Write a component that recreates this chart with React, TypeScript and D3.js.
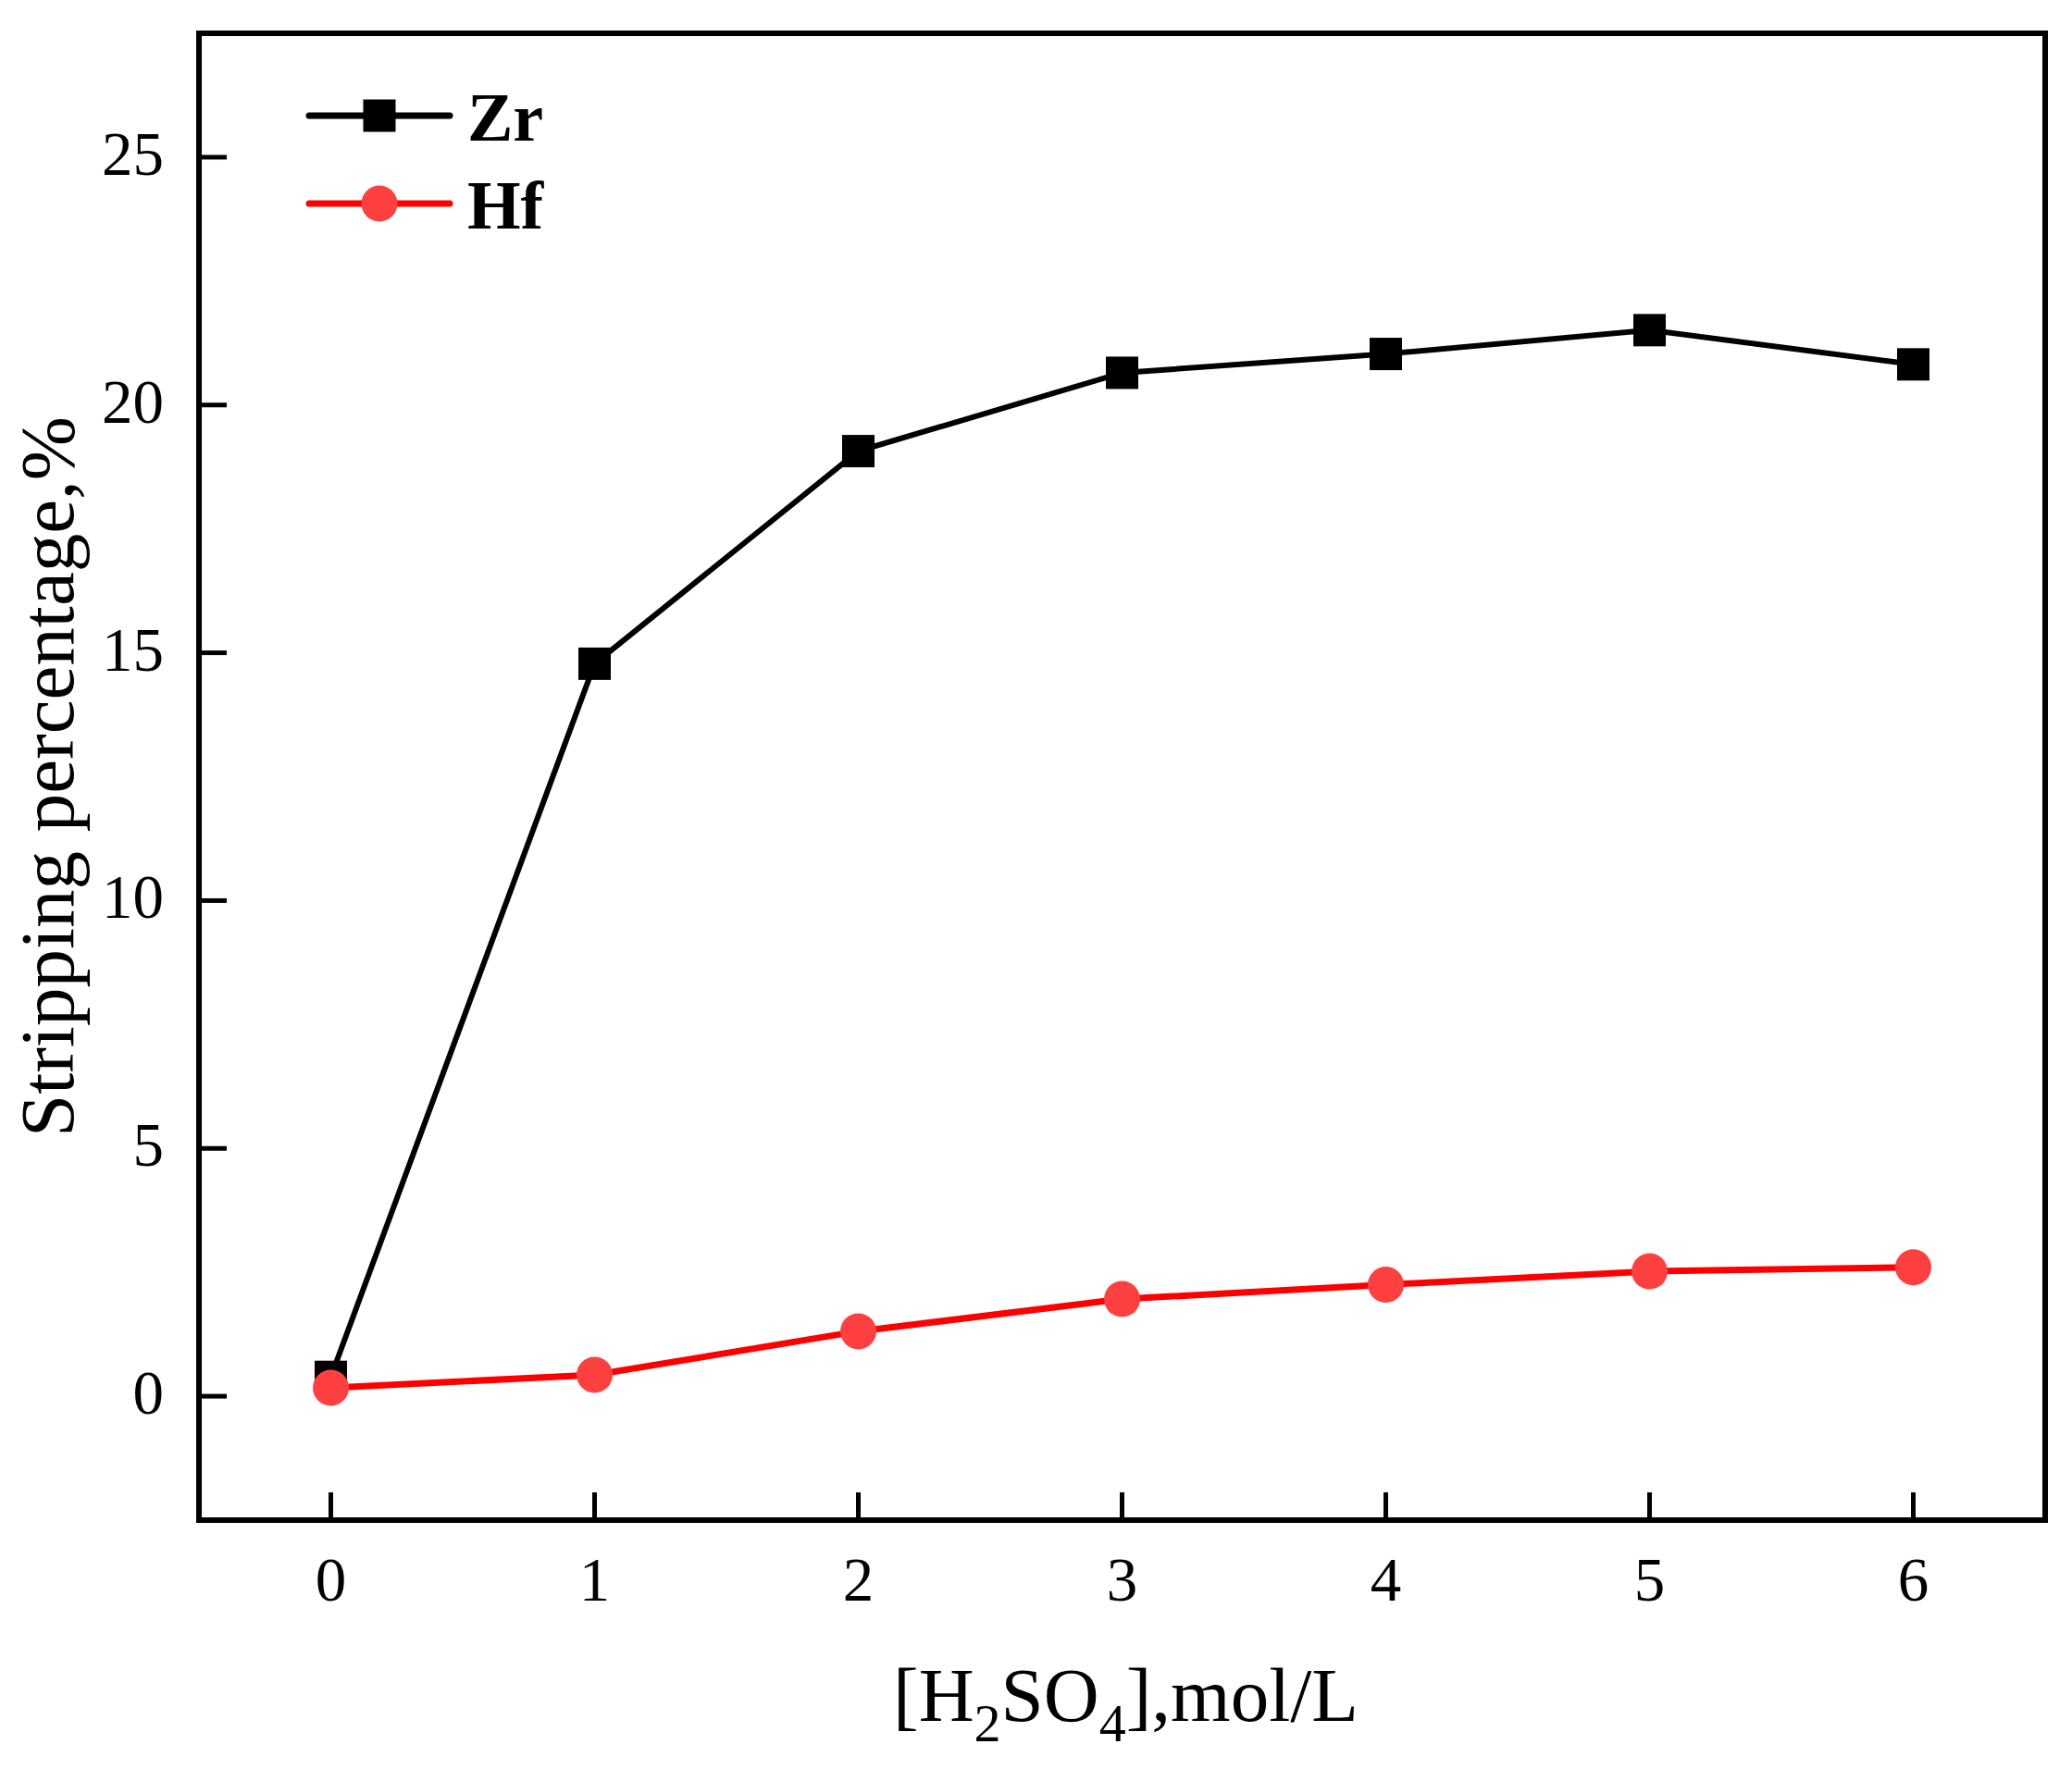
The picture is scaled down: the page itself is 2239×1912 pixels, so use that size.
// @ts-nocheck
import { useEffect, useRef } from "react"
import * as d3 from "d3"

const concentrations = [0, 1, 2, 3, 4, 5, 6]
const zrValues = [0.39, 14.78, 19.07, 20.65, 21.03, 21.51, 20.82]
const hfValues = [0.17, 0.43, 1.31, 1.96, 2.25, 2.52, 2.6]
const xTicks = [0, 1, 2, 3, 4, 5, 6]
const yTicks = [0, 5, 10, 15, 20, 25]

const FONT = "'Liberation Serif', 'Times New Roman', serif"

export default function App() {
  const svgRef = useRef<SVGSVGElement>(null)

  useEffect(() => {
    if (!svgRef.current) return
    const width = 2239
    const height = 1912
    const left = 215
    const right = 2210
    const top = 36
    const bottom = 1643

    const svg = d3.select(svgRef.current)
    svg.selectAll("*").remove()
    svg.attr("width", width).attr("height", height)

    svg.append("rect").attr("width", width).attr("height", height).attr("fill", "#fff")

    const x = d3.scaleLinear().domain([-0.5, 6.5]).range([left, right])
    const y = d3.scaleLinear().domain([-2.5, 27.5]).range([bottom, top])

    // ticks (inward)
    const tickLen = 30
    svg
      .append("g")
      .selectAll("line")
      .data(xTicks)
      .join("line")
      .attr("x1", (d) => x(d))
      .attr("x2", (d) => x(d))
      .attr("y1", bottom)
      .attr("y2", bottom - tickLen)
      .attr("stroke", "#000")
      .attr("stroke-width", 5)

    svg
      .append("g")
      .selectAll("line")
      .data(yTicks)
      .join("line")
      .attr("x1", left)
      .attr("x2", left + tickLen)
      .attr("y1", (d) => y(d))
      .attr("y2", (d) => y(d))
      .attr("stroke", "#000")
      .attr("stroke-width", 5)

    // frame
    svg
      .append("rect")
      .attr("x", left)
      .attr("y", top)
      .attr("width", right - left)
      .attr("height", bottom - top)
      .attr("fill", "none")
      .attr("stroke", "#000")
      .attr("stroke-width", 6)

    // tick labels
    svg
      .append("g")
      .selectAll("text")
      .data(xTicks)
      .join("text")
      .attr("x", (d) => x(d))
      .attr("y", 1730)
      .attr("text-anchor", "middle")
      .style("font-family", FONT)
      .style("font-size", "67px")
      .text((d) => d)

    svg
      .append("g")
      .selectAll("text")
      .data(yTicks)
      .join("text")
      .attr("x", 177)
      .attr("y", (d) => y(d) + 19)
      .attr("text-anchor", "end")
      .style("font-family", FONT)
      .style("font-size", "67px")
      .text((d) => d)

    // axis titles
    const xt = svg
      .append("text")
      .attr("x", (left + right) / 2 + 4)
      .attr("y", 1860)
      .attr("text-anchor", "middle")
      .style("font-family", FONT)
      .style("font-size", "83px")
    xt.append("tspan").text("[H")
    xt.append("tspan").attr("dy", 22).style("font-size", "58px").text("2")
    xt.append("tspan").attr("dy", -22).text("SO")
    xt.append("tspan").attr("dy", 22).style("font-size", "58px").text("4")
    xt.append("tspan").attr("dy", -22).text("],mol/L")

    svg
      .append("text")
      .attr("transform", `translate(79,${(top + bottom) / 2}) rotate(-90)`)
      .attr("text-anchor", "middle")
      .style("font-family", FONT)
      .style("font-size", "83px")
      .text("Stripping percentage,%")

    const line = d3
      .line()
      .x((d) => x(d[0]))
      .y((d) => y(d[1]))

    const zrData = concentrations.map((c, i) => [c, zrValues[i]])
    const hfData = concentrations.map((c, i) => [c, hfValues[i]])

    // Zr series
    svg
      .append("path")
      .attr("d", line(zrData))
      .attr("fill", "none")
      .attr("stroke", "#000")
      .attr("stroke-width", 6)
    const sq = 35
    svg
      .append("g")
      .selectAll("rect")
      .data(zrData)
      .join("rect")
      .attr("x", (d) => x(d[0]) - sq / 2)
      .attr("y", (d) => y(d[1]) - sq / 2)
      .attr("width", sq)
      .attr("height", sq)
      .attr("fill", "#000")

    // Hf series
    svg
      .append("path")
      .attr("d", line(hfData))
      .attr("fill", "none")
      .attr("stroke", "#ff0000")
      .attr("stroke-width", 7)
    svg
      .append("g")
      .selectAll("circle")
      .data(hfData)
      .join("circle")
      .attr("cx", (d) => x(d[0]))
      .attr("cy", (d) => y(d[1]))
      .attr("r", 19.5)
      .attr("fill", "#ff4040")

    // legend
    const legend = svg.append("g")
    legend
      .append("line")
      .attr("x1", 334)
      .attr("x2", 486)
      .attr("y1", 125)
      .attr("y2", 125)
      .attr("stroke", "#000")
      .attr("stroke-width", 7)
      .attr("stroke-linecap", "round")
    legend
      .append("rect")
      .attr("x", 410 - sq / 2)
      .attr("y", 125 - sq / 2)
      .attr("width", sq)
      .attr("height", sq)
      .attr("fill", "#000")
    legend
      .append("text")
      .attr("x", 505)
      .attr("y", 152)
      .style("font-family", FONT)
      .style("font-size", "74px")
      .style("font-weight", "bold")
      .text("Zr")

    legend
      .append("line")
      .attr("x1", 334)
      .attr("x2", 486)
      .attr("y1", 220)
      .attr("y2", 220)
      .attr("stroke", "#ff0000")
      .attr("stroke-width", 7)
      .attr("stroke-linecap", "round")
    legend
      .append("circle")
      .attr("cx", 410)
      .attr("cy", 220)
      .attr("r", 19.5)
      .attr("fill", "#ff4040")
    legend
      .append("text")
      .attr("x", 505)
      .attr("y", 247)
      .style("font-family", FONT)
      .style("font-size", "74px")
      .style("font-weight", "bold")
      .text("Hf")
  }, [])

  return <svg ref={svgRef} style={{ position: "absolute", left: 0, top: 0, display: "block" }} />
}
